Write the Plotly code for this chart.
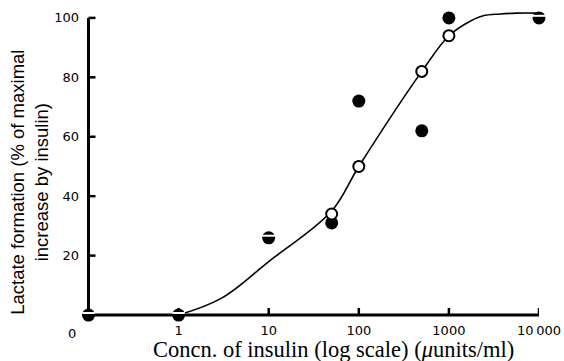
import plotly.graph_objects as go

# Data (x = insulin concentration, µunits/ml; 0.1 stands for "0" on the log axis)
curve_x = [1, 3, 10, 50, 100, 500, 1000, 1700, 2400, 3700, 5600, 10000]
curve_y = [0, 5.7, 18, 35, 50, 82, 94, 98.8, 100.7, 101.3, 101.6, 101.6]

closed_x = [50, 100, 500, 1000]
closed_y = [31, 72, 62, 100]

open_x = [50, 100, 500, 1000]
open_y = [34, 50, 82, 94]

# points where the open and closed symbols coincide (drawn half-filled)
half_x = [0.1, 1, 10, 10000]
half_y = [0, 0, 26, 100]

xtick_vals = [1, 10, 100, 1000, 10000]
xtick_text = ["1", "10", "100", "1000", "10\u2009000"]
ytick_vals = [20, 40, 60, 80, 100]
ytick_text = ["20", "40", "60", "80", "100"]

X_MIN, X_MAX = 0.1, 10000
Y_TOP = 104
TICK_Y = 2.36          # inward tick length in y units (~7 px)
TICK_XF = 10 ** (7 / 90)  # inward tick length as a log-axis factor (~7 px)

# tick segments built from the tick values
tx, ty = [], []
for v in xtick_vals:
    tx += [v, v, None]
    ty += [0, TICK_Y, None]
yx, yy = [], []
for v in ytick_vals:
    yx += [X_MIN, X_MIN * TICK_XF, None]
    yy += [v, v, None]

fig = go.Figure()
# axis lines
fig.add_trace(go.Scatter(x=[X_MIN, X_MAX], y=[0, 0], mode="lines",
                         line=dict(color="black", width=3), hoverinfo="skip"))
fig.add_trace(go.Scatter(x=[X_MIN, X_MIN], y=[0, ytick_vals[-1]], mode="lines",
                         line=dict(color="black", width=3), hoverinfo="skip"))
# inward tick marks
fig.add_trace(go.Scatter(x=tx, y=ty, mode="lines", line=dict(color="black", width=2.5),
                         hoverinfo="skip"))
fig.add_trace(go.Scatter(x=yx, y=yy, mode="lines", line=dict(color="black", width=2.5),
                         hoverinfo="skip"))
# fitted curve
fig.add_trace(go.Scatter(x=curve_x, y=curve_y, mode="lines",
                         line=dict(color="black", width=1.6, shape="spline", smoothing=1.0),
                         hoverinfo="skip"))
fig.add_trace(go.Scatter(x=closed_x, y=closed_y, mode="markers", cliponaxis=False,
                         marker=dict(size=13, color="black", line=dict(width=0))))
fig.add_trace(go.Scatter(x=open_x, y=open_y, mode="markers", cliponaxis=False,
                         marker=dict(size=11, color="white", line=dict(color="black", width=2))))
fig.add_trace(go.Scatter(x=half_x, y=half_y, mode="markers", cliponaxis=False,
                         marker=dict(size=13, color="black", line=dict(width=0))))
fig.add_trace(go.Scatter(x=half_x, y=[v + 0.7 for v in half_y], mode="markers", cliponaxis=False,
                         marker=dict(symbol="line-ew", size=9, color="white",
                                     line=dict(color="white", width=2)),
                         hoverinfo="skip"))

tickfont = dict(family="DejaVu Sans", size=13, color="black")
xtitle_font = dict(family="Liberation Serif", size=22.5, color="black")
ytitle_font = dict(family="Liberation Sans", size=18.5, color="black")

fig.update_layout(
    width=564, height=361,
    margin=dict(l=84, r=25, t=6, b=40),
    paper_bgcolor="white", plot_bgcolor="white",
    showlegend=False,
    xaxis=dict(type="log", range=[-1.05, 4.0], showgrid=False, zeroline=False,
               showline=False, automargin=False, ticks="",
               tickvals=xtick_vals, ticktext=xtick_text, tickfont=tickfont,
               ticklabelstandoff=0),
    yaxis=dict(range=[-2, Y_TOP], showgrid=False, zeroline=False,
               showline=False, automargin=False, ticks="",
               tickvals=ytick_vals, ticktext=ytick_text, tickfont=tickfont,
               ticklabelstandoff=4),
    annotations=[
        dict(x=-1, y=0, xref="x", yref="y", text="0", showarrow=False,
             xshift=-17, yshift=-18, font=tickfont),
        dict(x=0.5, y=0, xref="paper", yref="paper",
             text="Concn. of insulin (log scale) (<i>\u03bc</i>units/ml)",
             showarrow=False, xanchor="center", yanchor="top", yshift=-14, xshift=22,
             font=xtitle_font),
        dict(x=0, y=44.5, xref="paper", yref="y",
             text="Lactate formation (% of maximal<br>increase by insulin)",
             showarrow=False, textangle=-90, xanchor="center", yanchor="middle",
             xshift=-54, font=ytitle_font),
    ],
)

fig.write_html("out.html")
